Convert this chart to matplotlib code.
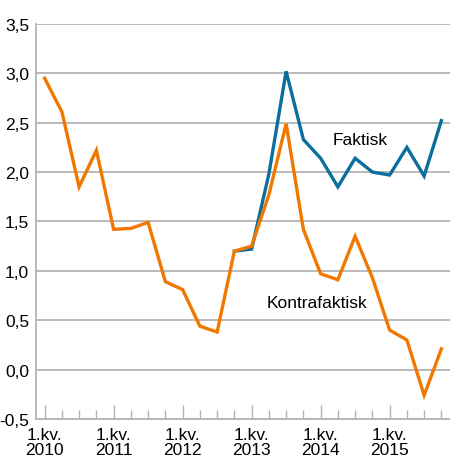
import numpy as np
import matplotlib.pyplot as plt
from matplotlib.ticker import FixedLocator, FuncFormatter

plt.rcParams['font.family'] = ['Liberation Sans', 'DejaVu Sans']

# kvartaler 2010K1 - 2015K4
quarters = list(range(24))
year_labels = ['1.kv.\n2010', '1.kv.\n2011', '1.kv.\n2012', '1.kv.\n2013', '1.kv.\n2014', '1.kv.\n2015']

kontrafaktisk = [2.95, 2.61, 1.85, 2.22, 1.42, 1.43, 1.49, 0.89, 0.81, 0.44, 0.38, 1.20,
                 1.25, 1.77, 2.49, 1.42, 0.97, 0.91, 1.35, 0.93, 0.40, 0.30, -0.26, 0.21]
faktisk_q = list(range(11, 24))
faktisk = [1.20, 1.22, 1.98, 3.02, 2.33, 2.14, 1.85, 2.14, 2.00, 1.97, 2.25, 1.96, 2.52]

orange = '#F07800'
blue = '#0C6E9C'
grid_c = '#B4B4B4'
fs = 12.5

fig = plt.figure(figsize=(4.5, 4.77), dpi=100)
ax = fig.add_axes([0.08, 0.1195, 0.92, 0.8283])

ax.set_ylim(-0.5, 3.5)
ax.set_xlim(-0.5, 23.5)
ax.set_yticks(np.arange(-0.5, 3.51, 0.5))
ax.yaxis.set_major_formatter(FuncFormatter(lambda v, p: f'{v:.1f}'.replace('.', ',')))
ax.grid(axis='y', color=grid_c, linewidth=1.3, zorder=0)
ax.set_axisbelow(True)

ax.plot(faktisk_q, faktisk, color=blue, linewidth=2.4, zorder=3, solid_joinstyle='miter')
ax.plot(quarters, kontrafaktisk, color=orange, linewidth=2.4, zorder=4, solid_joinstyle='miter')

ax.xaxis.set_major_locator(FixedLocator([0, 4, 8, 12, 16, 20]))
ax.xaxis.set_minor_locator(FixedLocator([q for q in quarters if q % 4 != 0]))
ax.set_xticklabels(year_labels)
ax.tick_params(axis='x', which='major', direction='in', length=10, width=1, color=grid_c,
               pad=6, labelsize=fs)
ax.tick_params(axis='x', which='minor', direction='in', length=6.5, width=1, color=grid_c)
ax.tick_params(axis='y', length=0, pad=5, labelsize=fs)
for lab in ax.get_xticklabels():
    lab.set_linespacing(0.95)

for s in ['top', 'right']:
    ax.spines[s].set_visible(False)
for s in ['left', 'bottom']:
    ax.spines[s].set_color(grid_c)
    ax.spines[s].set_linewidth(1.3)

ax.text(18.3, 2.33, 'Faktisk', fontsize=fs, ha='center', va='center')
ax.text(15.8, 0.675, 'Kontrafaktisk', fontsize=fs, ha='center', va='center')

fig.savefig('out.png', dpi=100)
